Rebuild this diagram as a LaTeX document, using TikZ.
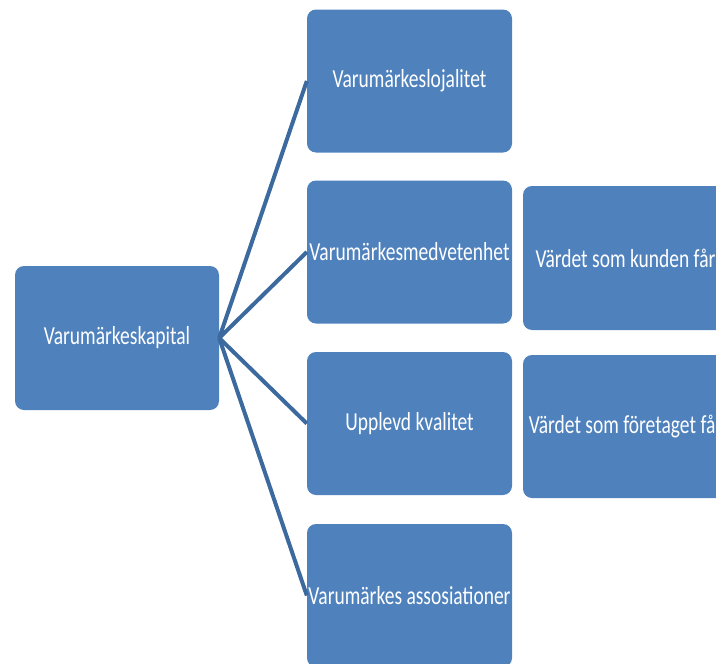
\documentclass[tikz,border=0pt]{standalone}
\usepackage{fontspec}
\setmainfont{Carlito}[FakeStretch=0.75]
\definecolor{boxblue}{HTML}{4F81BD}
\definecolor{lineblue}{HTML}{3D6A9E}
\begin{document}
\begin{tikzpicture}[
        x=1pt, y=-1pt,
        every node/.style={font=\fontsize{26}{30}\selectfont},
        box/.style={rectangle, rounded corners=9pt, fill=boxblue, text=white,
            inner sep=1pt, minimum width=205pt, minimum height=143pt},
        link/.style={line width=4pt, draw=lineblue}
    ]
    \useasboundingbox (0,0) rectangle (716,664);
    \clip (0,0) rectangle (716,664);

    % Left: main concept
    \node[box, minimum width=204pt, minimum height=144pt] (kapital) at (117,338)
    {Varumärkeskapital};

    % Middle column
    \node[box] (lojalitet) at (409.5,81) {Varumärkeslojalitet};
    \node[box] (medvetenhet) at (409.5,252) {Varumärkesmedvetenhet};
    \node[box] (kvalitet) at (409.5,423.5) {Upplevd kvalitet};
    \node[box] (assoc) at (409.5,595.5) {Varumärkes assosiationer};

    % Right column
    \node[box, minimum height=144pt] (kund) at (625.5,258) {Värdet som kunden får};
    \node[box] (foretag) at (625.5,426.5) {Värdet som företaget får};

    % Connectors
    \draw[link] (kapital.east) -- (lojalitet.west);
    \draw[link] (kapital.east) -- (medvetenhet.west);
    \draw[link] (kapital.east) -- (kvalitet.west);
    \draw[link] (kapital.east) -- (assoc.west);

\end{tikzpicture}
\end{document}
